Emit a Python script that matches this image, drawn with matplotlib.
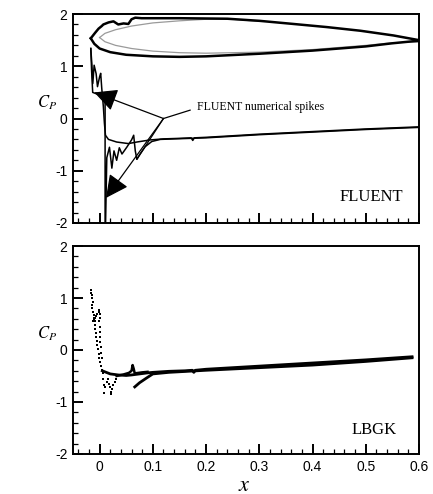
import numpy as np
import matplotlib
matplotlib.use("Agg")
import matplotlib.pyplot as plt
from matplotlib.ticker import MultipleLocator, NullFormatter

plt.rcParams["mathtext.fontset"] = "stix"
plt.rcParams["font.family"] = ["Liberation Sans", "DejaVu Sans"]

# ─── airfoil outline drawn in the FLUENT panel ─────────────────
af_up_x = [-0.0166, -0.0085, -0.002, 0.004, 0.007, 0.017, 0.026, 0.035, 0.045, 0.054,
           0.060, 0.067, 0.079, 0.095, 0.15, 0.24, 0.30, 0.364, 0.427, 0.49, 0.552, 0.60]
af_up_y = [1.535, 1.64, 1.72, 1.77, 1.80, 1.84, 1.86, 1.80, 1.82, 1.81,
           1.90, 1.93, 1.92, 1.92, 1.92, 1.91, 1.87, 1.81, 1.75, 1.68, 1.59, 1.50]
af_lo_x = [-0.0166, -0.01, 0.0, 0.02, 0.05, 0.10, 0.15, 0.20, 0.30, 0.40, 0.50, 0.55, 0.60]
af_lo_y = [1.535, 1.43, 1.34, 1.27, 1.22, 1.19, 1.18, 1.19, 1.24, 1.30, 1.38, 1.44, 1.49]
af_in_up_x = [0.0, 0.01, 0.03, 0.06, 0.10, 0.15, 0.20, 0.25, 0.30]
af_in_up_y = [1.55, 1.63, 1.70, 1.77, 1.83, 1.87, 1.90, 1.90, 1.86]
af_in_lo_x = [0.0, 0.01, 0.03, 0.06, 0.10, 0.15, 0.20, 0.30, 0.40, 0.50, 0.55, 0.58, 0.60]
af_in_lo_y = [1.55, 1.47, 1.40, 1.34, 1.29, 1.26, 1.25, 1.27, 1.32, 1.40, 1.45, 1.46, 1.46]

# ─── FLUENT Cp ─────────────────────────────────────────────────
fl_a_x = [-0.0166, -0.0147, -0.0128, -0.0103, -0.0066, -0.004, 0.0, 0.002, 0.004, 0.007,
          0.009, 0.011, 0.0166, 0.032, 0.054, 0.07, 0.095, 0.12, 0.15, 0.172, 0.175, 0.178,
          0.20, 0.30, 0.40, 0.50, 0.60]
fl_a_y = [1.34, 1.06, 0.67, 1.02, 0.86, 0.61, 0.80, 0.865, 0.58, 0.23,
          -0.09, -0.32, -0.40, -0.45, -0.48, -0.45, -0.41, -0.39, -0.38, -0.37, -0.42, -0.37,
          -0.36, -0.30, -0.25, -0.20, -0.16]
fl_b_x = [-0.0166, -0.015, -0.013, 0.0, 0.008, 0.0103, 0.0103, 0.0135, 0.0185, 0.023,
          0.027, 0.032, 0.037, 0.042, 0.051, 0.060, 0.064, 0.067, 0.070, 0.076, 0.0855,
          0.098, 0.114, 0.14, 0.17, 0.20, 0.30, 0.40, 0.50, 0.60]
fl_b_y = [1.34, 0.90, 0.50, 0.45, 0.42, 0.30, -2.5, -0.75, -0.55, -0.95,
          -0.62, -0.80, -0.56, -0.68, -0.55, -0.41, -0.32, -0.62, -0.78, -0.68, -0.54,
          -0.44, -0.40, -0.39, -0.38, -0.37, -0.31, -0.26, -0.21, -0.17]

# annotation "FLUENT numerical spikes"
note_xy = (0.183, 0.22)
note_line = ([0.17, 0.12], [0.16, 0.0])
arrow_tips = [(-0.010, 0.50), (0.012, -1.52)]
plain_tip = (0.070, -0.78)

# ─── LBGK Cp (scattered points near the leading edge) ──────────
lb_dot_x = [-0.0170, -0.0160, -0.0150, -0.0140, -0.0130, -0.0140, -0.0150, -0.0125, -0.0110,
            -0.0100, -0.0090, -0.0085, -0.0080, -0.0070, -0.0060, -0.0050, -0.0040, -0.0030,
            -0.0020, -0.0010, 0.0000, 0.0020, 0.0050,
            -0.0120, -0.0100, -0.0080, -0.0060, -0.0040, -0.0020, -0.0005, 0.0005, 0.0000,
            -0.0010, 0.0000, 0.0010, 0.0010, 0.0015, 0.0025, 0.0030, 0.0040,
            0.0060, 0.0070, 0.0080, 0.0090, 0.0110, 0.0130, 0.0150, 0.0170, 0.0190, 0.0210,
            0.0220, 0.0240, 0.0260, 0.0280, 0.0300, 0.0320]
lb_dot_y = [1.15, 1.10, 1.05, 1.00, 0.93, 0.86, 0.80, 0.74, 0.68,
            0.62, 0.55, 0.48, 0.40, 0.33, 0.25, 0.17, 0.09, 0.01,
            -0.07, -0.15, -0.23, -0.31, -0.38,
            0.55, 0.58, 0.62, 0.66, 0.70, 0.74, 0.76, 0.70, 0.62,
            0.55, 0.45, 0.35, 0.25, 0.15, 0.05, -0.05, -0.15,
            -0.45, -0.55, -0.67, -0.83, -0.72, -0.62, -0.55, -0.65, -0.72, -0.80,
            -0.85, -0.75, -0.68, -0.62, -0.55, -0.50]

lb_up_x = [0.005, 0.02, 0.035, 0.05, 0.06, 0.075, 0.09, 0.10, 0.13, 0.16, 0.174, 0.177,
           0.180, 0.20, 0.30, 0.40, 0.50, 0.587]
lb_up_y = [-0.40, -0.46, -0.48, -0.49, -0.48, -0.46, -0.44, -0.43, -0.41, -0.40, -0.39, -0.43,
           -0.39, -0.37, -0.31, -0.25, -0.19, -0.13]
lb_spk_x = [0.032, 0.045, 0.055, 0.060, 0.062, 0.064, 0.066, 0.080, 0.090]
lb_spk_y = [-0.50, -0.47, -0.44, -0.40, -0.29, -0.36, -0.45, -0.43, -0.42]
lb_lo_x = [0.066, 0.075, 0.088, 0.10, 0.13, 0.20, 0.30, 0.40, 0.50, 0.587]
lb_lo_y = [-0.71, -0.63, -0.54, -0.46, -0.43, -0.39, -0.34, -0.29, -0.22, -0.15]

XTICKS = [0, 0.1, 0.2, 0.3, 0.4, 0.5, 0.6]
YTICKS = [-2, -1, 0, 1, 2]

# ─── figure ────────────────────────────────────────────────────
fig = plt.figure(figsize=(4.33, 4.94), dpi=100)
ax1 = fig.add_axes([0.1686, 0.5486, 0.799, 0.423])
ax2 = fig.add_axes([0.1686, 0.081, 0.799, 0.421])

for ax in (ax1, ax2):
    ax.set_xlim(-0.05, 0.6)
    ax.set_ylim(-2, 2)
    ax.set_xticks(XTICKS)
    ax.set_yticks(YTICKS)
    ax.xaxis.set_minor_locator(MultipleLocator(0.02))
    ax.yaxis.set_minor_locator(MultipleLocator(0.2))
    ax.tick_params(which="both", direction="in", top=False, right=False, labelsize=10)
    ax.tick_params(which="major", length=7, width=1.4, pad=4)
    ax.tick_params(which="minor", length=3.5, width=0.9)
    for s in ax.spines.values():
        s.set_linewidth(1.4)
    ax.set_yticklabels([str(t) for t in YTICKS])

ax1.xaxis.set_major_formatter(NullFormatter())
ax2.set_xticklabels(["0", "0.1", "0.2", "0.3", "0.4", "0.5", "0.6"])

# top: FLUENT
ax1.plot(af_in_up_x, af_in_up_y, color="#9a9a9a", lw=0.9)
ax1.plot(af_in_lo_x, af_in_lo_y, color="#9a9a9a", lw=0.9)
ax1.plot(af_up_x, af_up_y, color="k", lw=1.8)
ax1.plot(af_lo_x, af_lo_y, color="k", lw=1.8)
ax1.plot(fl_a_x, fl_a_y, color="k", lw=1.1)
ax1.plot(fl_b_x, fl_b_y, color="k", lw=1.1)

ax1.plot(*note_line, color="k", lw=0.9)
jx, jy = note_line[0][1], note_line[1][1]
for tip in arrow_tips:
    ax1.annotate("", xy=tip, xytext=(jx, jy),
                 arrowprops=dict(arrowstyle="-|>,head_length=1.0,head_width=0.5",
                                 mutation_scale=14, color="k", lw=0.9,
                                 shrinkA=0, shrinkB=0))
ax1.plot([jx, plain_tip[0]], [jy, plain_tip[1]], color="k", lw=0.9)
ax1.text(*note_xy, "FLUENT numerical spikes", family="Liberation Serif",
         fontsize=8.5, ha="left", va="center")
ax1.text(0.57, -1.5, "FLUENT", family="Liberation Serif", fontsize=12,
         ha="right", va="center")

# bottom: LBGK
ax2.plot(lb_dot_x, lb_dot_y, "s", ms=2.0, color="k", mew=0, linestyle="none")
ax2.plot(lb_up_x, lb_up_y, color="k", lw=2.0)
ax2.plot(lb_spk_x, lb_spk_y, color="k", lw=1.8)
ax2.plot(lb_lo_x, lb_lo_y, color="k", lw=2.0)
ax2.text(0.558, -1.54, "LBGK", family="Liberation Serif", fontsize=12,
         ha="right", va="center")

fig.text(47 / 433, 1 - 103 / 494, r"$C_P$", fontsize=12, ha="center", va="center")
fig.text(47 / 433, 1 - 334 / 494, r"$C_P$", fontsize=12, ha="center", va="center")
fig.text(244 / 433, 1 - 485 / 494, r"$x$", fontsize=16, ha="center", va="center")

fig.savefig("out.png", dpi=100)
